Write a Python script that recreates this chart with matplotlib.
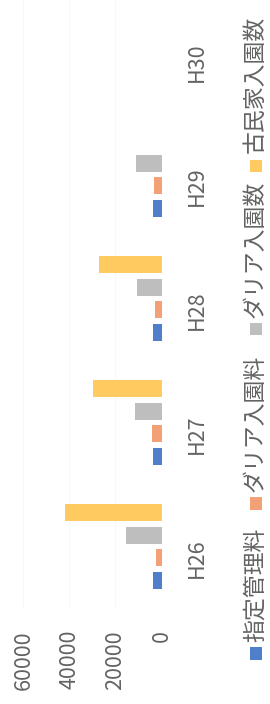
import matplotlib
matplotlib.use("Agg")
import matplotlib.pyplot as plt
from matplotlib.patches import Rectangle
from matplotlib.transforms import blended_transform_factory
import numpy as np

plt.rcParams['font.family'] = ['Noto Sans CJK JP', 'DejaVu Sans']

categories = ['H26', 'H27', 'H28', 'H29', 'H30']
series_names = ['指定管理料', 'ダリア入園料', 'ダリア入園数', '古民家入園数']
shitei = [3700, 3600, 3500, 3500, 0]
dahlia_fee = [2300, 4000, 2700, 3400, 0]
dahlia_count = [15400, 11500, 10700, 10900, 0]
kominka_count = [41900, 29900, 27000, 0, 0]
value_ticks = [0, 20000, 40000, 60000]
value_tick_labels = ['0', '20000', '40000', '60000']

series = [shitei, dahlia_fee, dahlia_count, kominka_count]
colors = ['#4F7FCB', '#F2A076', '#BEBEBE', '#FFCB60']
text_color = '#636363'

W, H = 270, 704
fig = plt.figure(figsize=(W / 100, H / 100), dpi=100)
fig.patch.set_facecolor('white')

x0, x60 = 161.5, 23.3        # pixel x of value 0 and 60000
ybot, ytop = 608.5, -11.5    # pixel y of category range
ax = fig.add_axes([x60 / W, (H - ybot) / H, (x0 - x60) / W, (ybot - ytop) / H])
ax.set_xlim(60000, 0)
ax.set_ylim(-0.5, len(categories) - 0.5)
for s in ax.spines.values():
    s.set_visible(False)
ax.set_xticks([])
ax.set_yticks([])
ax.patch.set_alpha(0)

for v in value_ticks:
    ax.axvline(v, color='#f8f8f8', lw=0.8, zorder=0)

idx = np.arange(len(categories))
bar_h = 0.137
step = 0.181
offsets = [-1.5 * step, -0.5 * step, 0.5 * step, 1.5 * step]
for vals, col, off in zip(series, colors, offsets):
    ax.barh(idx + off, vals, height=bar_h, color=col, zorder=2)

# value tick labels (rotated)
tr_v = blended_transform_factory(ax.transData, fig.transFigure)
for v, lab in zip(value_ticks, value_tick_labels):
    ax.text(v, (H - 630) / H, lab, transform=tr_v, rotation=90,
            ha='center', va='top', fontsize=15.5, color=text_color)

# category labels (rotated)
tr_c = blended_transform_factory(fig.transFigure, ax.transData)
for i, lab in enumerate(categories):
    ax.text(197 / W, i - 0.097, lab, transform=tr_c, rotation=90,
            ha='center', va='center', fontsize=15.5, color=text_color)

# legend (rotated, reading bottom to top)
sq_centers = [653.5, 503.5, 329, 166]
text_starts = [642, 492, 318, 153]
sq = 12.5
for name, col, yc, ys in zip(series_names, colors, sq_centers, text_starts):
    fig.patches.append(Rectangle(((256 - sq / 2) / W, (H - yc - sq / 2) / H),
                                 sq / W, sq / H, transform=fig.transFigure,
                                 facecolor=col, edgecolor='none'))
    fig.text(255 / W, (H - ys) / H, name, rotation=90, ha='center', va='bottom',
             fontsize=16.5, color=text_color)

fig.savefig('out.png', dpi=100, facecolor='white')
